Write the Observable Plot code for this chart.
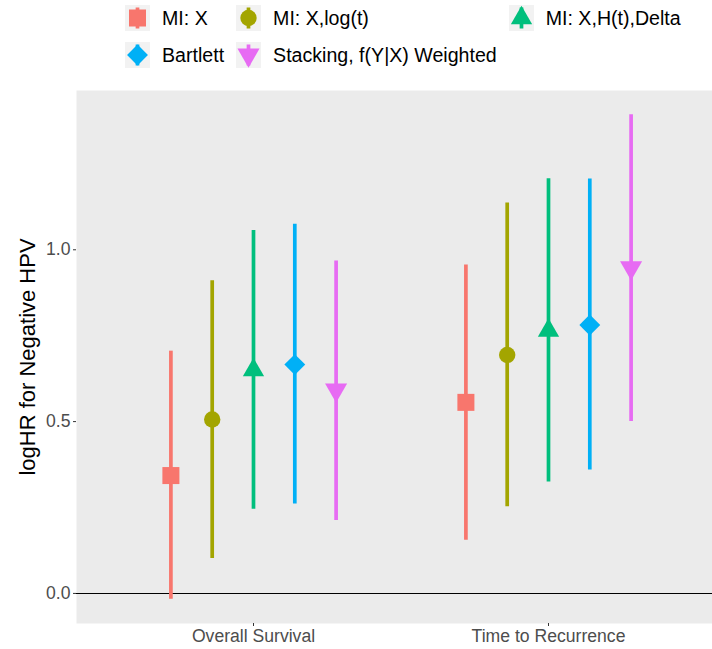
<!DOCTYPE html>
<html>
<head>
<meta charset="utf-8">
<script src="https://cdn.jsdelivr.net/npm/d3@7"></script>
<script src="https://cdn.jsdelivr.net/npm/@observablehq/plot@0.6"></script>
<style>
html, body { margin: 0; padding: 0; background: #fff; overflow: hidden; width: 712px; height: 649px; }
#legend {
  height: 80px; box-sizing: border-box; padding: 5px 0 0 125px;
  display: grid; grid-template-columns: repeat(3, max-content);
  column-gap: 12px; row-gap: 11px; align-content: start;
  font-family: "Liberation Sans", Arial, sans-serif; font-size: 19.6px; color: #000;
}
.item { display: flex; align-items: center; gap: 12px; height: 26px; white-space: nowrap; }
.item svg { display: block; }
</style>
</head>
<body>
<div id="legend"></div>
<div id="chart"></div>
<script>
// ---- data ----
const outcomes = ["Overall Survival", "Time to Recurrence"];
const methods = ["MI: X", "MI: X,log(t)", "MI: X,H(t),Delta", "Bartlett", "Stacking, f(Y|X) Weighted"];
const estimateOS  = [0.343, 0.506, 0.650, 0.666, 0.592];
const lowerOS     = [-0.017, 0.102, 0.245, 0.260, 0.212];
const upperOS     = [0.705, 0.910, 1.056, 1.074, 0.967];
const estimateTTR = [0.556, 0.694, 0.765, 0.781, 0.948];
const lowerTTR    = [0.155, 0.252, 0.324, 0.359, 0.500];
const upperTTR    = [0.956, 1.136, 1.207, 1.206, 1.393];
const yTicks = [0, 0.5, 1];
const yTitle = "logHR for Negative HPV";

// ---- styles ----
const colors = ["#F8766D", "#A3A500", "#00BF7D", "#00B0F6", "#E76BF3"];
const triangleDown = {
  draw(context, size) {
    const y = Math.sqrt(size / (Math.sqrt(3) * 3));
    context.moveTo(0, 2 * y);
    context.lineTo(-Math.sqrt(3) * y, -y);
    context.lineTo(Math.sqrt(3) * y, -y);
    context.closePath();
  }
};
const symbols = [d3.symbolSquare, d3.symbolCircle, d3.symbolTriangle, d3.symbolDiamond2, triangleDown];
const symbolR = [9.6, 8.2, 7.9, 9.4, 8.2];
const lineW = 3.7;
const dodgeWidth = 0.7;

const estimates = [estimateOS, estimateTTR];
const lowers = [lowerOS, lowerTTR];
const uppers = [upperOS, upperTTR];
const step = dodgeWidth / methods.length;
const rows = outcomes.flatMap((o, i) => methods.map((m, j) => ({
  outcome: o, method: m,
  pos: i + 1 + (j - (methods.length - 1) / 2) * step,
  estimate: estimates[i][j], lower: lowers[i][j], upper: uppers[i][j]
})));

// ---- legend ----
const legend = d3.select("#legend");
methods.forEach((m, j) => {
  const item = legend.append("div").attr("class", "item");
  const svg = item.append("svg").attr("width", 25).attr("height", 26);
  svg.append("rect").attr("width", 25).attr("height", 26).attr("fill", "#F2F2F2");
  svg.append("line").attr("x1", 12.5).attr("x2", 12.5).attr("y1", 2.5).attr("y2", 23.5)
    .attr("stroke", colors[j]).attr("stroke-width", lineW);
  svg.append("path").attr("transform", "translate(12.5,13)")
    .attr("d", d3.symbol(symbols[j], symbolR[j] * symbolR[j] * Math.PI)())
    .attr("fill", colors[j]);
  item.append("span").text(m);
});

// ---- chart ----
const yExt = d3.extent(rows.flatMap(d => [d.lower, d.upper]));
const pad = (yExt[1] - yExt[0]) * 0.05;

const chart = Plot.plot({
  width: 725, height: 569,
  marginTop: 10, marginBottom: 26, marginLeft: 76, marginRight: 0,
  style: { fontFamily: "Liberation Sans, Arial, sans-serif", maxWidth: "none", background: "white", overflow: "visible" },
  x: { type: "linear", domain: [0.4, outcomes.length + 0.6] },
  y: { domain: [yExt[0] - pad, yExt[1] + pad] },
  color: { domain: methods, range: colors },
  symbol: { domain: methods, range: symbols },
  r: { type: "identity" },
  marks: [
    Plot.frame({ fill: "#EBEBEB", stroke: "none" }),
    Plot.ruleY([0], { stroke: "black", strokeWidth: 1.1 }),
    Plot.ruleX(rows, { x: "pos", y1: "lower", y2: "upper", stroke: "method", strokeWidth: lineW }),
    Plot.dot(rows, {
      x: "pos", y: "estimate", fill: "method", symbol: "method",
      r: d => symbolR[methods.indexOf(d.method)], stroke: "none"
    }),
    Plot.axisY({ ticks: yTicks, tickFormat: d3.format(".1f"), tickSize: 3, tickPadding: 3,
      fontSize: 17.6, stroke: "#333333", fill: "#4D4D4D", label: null }),
    Plot.axisX({ ticks: d3.range(1, outcomes.length + 1), tickFormat: i => outcomes[i - 1],
      tickSize: 3, tickPadding: 3, fontSize: 17.6, stroke: "#333333", fill: "#4D4D4D", label: null }),
    Plot.text([yTitle], { text: d => d, frameAnchor: "left", rotate: -90, dx: -49,
      fontSize: 22, fill: "black", textAnchor: "middle", lineAnchor: "middle" })
  ]
});
document.getElementById("chart").appendChild(chart);
</script>
</body>
</html>
